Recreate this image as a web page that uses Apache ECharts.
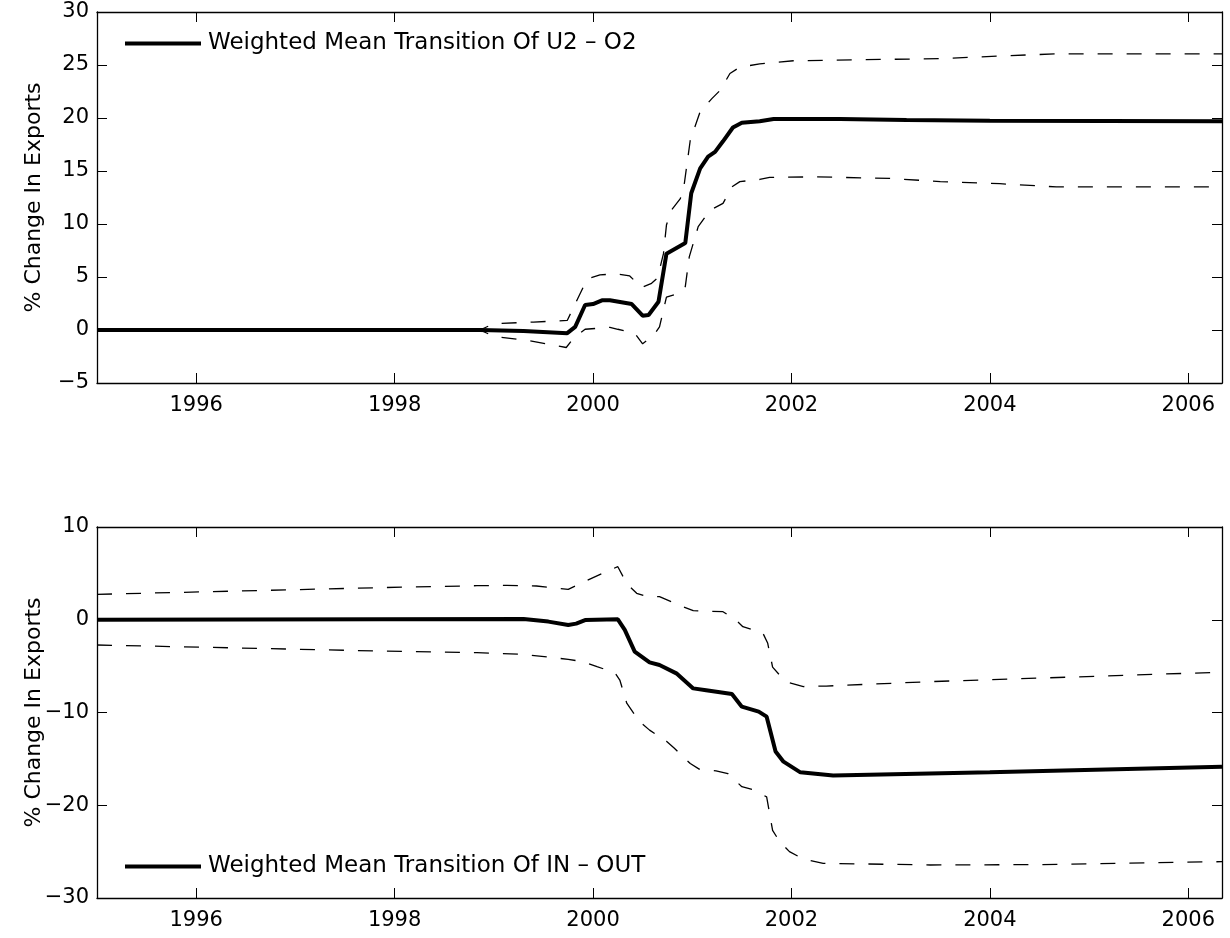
<!DOCTYPE html>
<html>
<head>
<meta charset="utf-8">
<script src="https://cdn.jsdelivr.net/npm/echarts@6/dist/echarts.min.js"></script>
<style>
html,body{margin:0;padding:0;background:#fff;}
#chart{width:1230px;height:938px;}
</style>
</head>
<body>
<div id="chart"></div>
<script>
// ---- data (decimal year, % change) ----
const xTickYears = [1996, 1998, 2000, 2002, 2004, 2006];

const topLegend = 'Weighted Mean Transition Of U2 \u2013 O2';
const botLegend = 'Weighted Mean Transition Of IN \u2013 OUT';

const topMean = [[1995.0,0],[1998.86,0],[1999.3,-0.1],[1999.74,-0.3],[1999.82,0.3],[1999.92,2.36],[2000.0,2.45],[2000.09,2.8],[2000.17,2.8],[2000.39,2.45],[2000.5,1.35],[2000.56,1.41],[2000.66,2.67],[2000.74,7.2],[2000.93,8.2],[2000.99,12.9],[2001.08,15.25],[2001.16,16.35],[2001.23,16.8],[2001.31,17.8],[2001.41,19.1],[2001.5,19.55],[2001.68,19.7],[2001.82,19.9],[2002.49,19.9],[2003.16,19.8],[2004.0,19.75],[2006.34,19.7]];
const topUpper = [[1995.0,0],[1998.86,0],[1999.0,0.6],[1999.4,0.75],[1999.74,0.9],[1999.94,4.8],[2000.07,5.2],[2000.24,5.3],[2000.37,5.1],[2000.49,4.0],[2000.59,4.4],[2000.65,4.9],[2000.71,7.2],[2000.74,9.9],[2000.79,11.3],[2000.88,12.4],[2000.92,13.8],[2000.98,17.9],[2001.08,20.6],[2001.2,21.85],[2001.28,22.6],[2001.38,24.2],[2001.48,24.8],[2001.68,25.1],[2001.78,25.2],[2002.02,25.4],[2002.69,25.5],[2003.5,25.6],[2004.1,25.85],[2004.67,26.05],[2006.34,26.05]];
const topLower = [[1995.0,0],[1998.86,0],[1999.0,-0.6],[1999.35,-1.0],[1999.73,-1.65],[1999.8,-0.8],[1999.92,0.07],[2000.17,0.25],[2000.25,0.07],[2000.42,-0.3],[2000.5,-1.3],[2000.61,-0.5],[2000.67,0.3],[2000.74,3.1],[2000.88,3.5],[2000.93,4.1],[2000.97,6.9],[2001.06,9.75],[2001.18,11.3],[2001.31,11.95],[2001.4,13.5],[2001.48,14.0],[2001.68,14.2],[2001.78,14.4],[2002.25,14.45],[2002.99,14.3],[2003.5,14.0],[2004.1,13.8],[2004.67,13.5],[2006.34,13.5]];

const botMean = [[1995.0,0],[1999.3,0.08],[1999.55,-0.2],[1999.75,-0.57],[1999.83,-0.42],[1999.92,-0.03],[2000.25,0.05],[2000.32,-1.1],[2000.42,-3.44],[2000.57,-4.6],[2000.67,-4.88],[2000.84,-5.78],[2001.01,-7.4],[2001.14,-7.6],[2001.4,-8.0],[2001.5,-9.37],[2001.67,-9.9],[2001.75,-10.45],[2001.84,-14.2],[2001.92,-15.3],[2002.09,-16.45],[2002.42,-16.8],[2004.0,-16.45],[2006.34,-15.84]];
const botUpper = [[1995.0,2.74],[1997.85,3.46],[1998.83,3.67],[1999.13,3.7],[1999.43,3.64],[1999.75,3.28],[1999.88,3.95],[2000.17,5.36],[2000.25,5.72],[2000.34,3.9],[2000.44,2.85],[2000.54,2.5],[2000.67,2.5],[2000.91,1.4],[2001.01,0.98],[2001.31,0.87],[2001.44,-0.03],[2001.51,-0.75],[2001.71,-1.4],[2001.76,-2.5],[2001.81,-5.1],[2001.88,-5.96],[2001.98,-6.8],[2002.12,-7.2],[2002.35,-7.15],[2003.4,-6.67],[2006.34,-5.65]];
const botLower = [[1995.0,-2.72],[1997.85,-3.37],[1998.83,-3.55],[1999.3,-3.73],[1999.75,-4.27],[1999.9,-4.52],[2000.04,-5.06],[2000.22,-5.7],[2000.27,-6.5],[2000.34,-9.0],[2000.47,-11.0],[2000.57,-11.9],[2000.74,-13.1],[2000.82,-13.86],[2000.98,-15.5],[2001.07,-16.1],[2001.24,-16.3],[2001.36,-16.6],[2001.5,-18.0],[2001.62,-18.35],[2001.75,-19.1],[2001.81,-22.7],[2001.88,-23.9],[2001.98,-25.0],[2002.12,-25.8],[2002.32,-26.26],[2003.4,-26.44],[2004.5,-26.4],[2006.34,-26.08]];

const X_MIN = 1995.0, X_MAX = 2006.34;
const FONT = 'DejaVu Sans, Liberation Sans, Arial, sans-serif';
const FS = 21;

function xAx(grid, pos, showLabel){
  return {
    type:'value', gridIndex:grid, position:pos, min:X_MIN, max:X_MAX,
    axisLine:{show:true, onZero:false, lineStyle:{color:'#000', width:1.3}},
    axisTick:{show:true, inside:true, length:10, customValues:xTickYears, lineStyle:{color:'#000', width:1}},
    axisLabel:{show:showLabel, customValues:xTickYears, margin:12, color:'#000', fontSize:FS, fontFamily:FONT,
      formatter: v => String(v)},
    splitLine:{show:false}
  };
}
function yAx(grid, pos, min, max, interval, showLabel){
  return {
    type:'value', gridIndex:grid, position:pos, min:min, max:max, interval:interval,
    name: showLabel ? '% Change In Exports' : '',
    nameLocation:'middle', nameGap:52, nameMoveOverlap:false,
    nameTextStyle:{color:'#000', fontSize:22, fontFamily:FONT},
    axisLine:{show:true, onZero:false, lineStyle:{color:'#000', width:1.3}},
    axisTick:{show:true, inside:true, length:10, lineStyle:{color:'#000', width:1}},
    axisLabel:{show:showLabel, margin:8, color:'#000', fontSize:FS, fontFamily:FONT,
      formatter: v => (v < 0 ? '\u2212' + Math.abs(v) : String(v))},
    splitLine:{show:false}
  };
}
function line(name, data, xi, yi, dashed){
  return {
    name:name, type:'line', xAxisIndex:xi, yAxisIndex:yi, data:data,
    showSymbol:false, symbol:'none', animation:false, silent:true,
    z: dashed ? 3 : 4,
    itemStyle:{color:'#000'},
    lineStyle: dashed ? {color:'#000', width:1.3, type:[15,14]} : {color:'#000', width:4}
  };
}
function legend(name, top){
  return {data:[name], left:125, top:top, icon:'rect', itemWidth:76, itemHeight:4, itemGap:0, padding:0,
    itemStyle:{color:'#000'},
    textStyle:{color:'#000', fontSize:23, fontFamily:FONT, padding:[0,0,0,2]}, selectedMode:false};
}

const chart = echarts.init(document.getElementById('chart'), null, {renderer:'canvas'});
chart.setOption({
  backgroundColor:'#fff',
  animation:false,
  grid:[
    {left:97, top:12, width:1125, height:371, show:false},
    {left:97, top:527, width:1125, height:371, show:false}
  ],
  xAxis:[xAx(0,'bottom',true), xAx(0,'top',false), xAx(1,'bottom',true), xAx(1,'top',false)],
  yAxis:[yAx(0,'left',-5,30,5,true), yAx(0,'right',-5,30,5,false), yAx(1,'left',-30,10,10,true), yAx(1,'right',-30,10,10,false)],
  legend:[legend(topLegend, 32), legend(botLegend, 855)],
  series:[
    line('topUpper', topUpper, 0, 0, true),
    line('topLower', topLower, 0, 0, true),
    line(topLegend, topMean, 0, 0, false),
    line('botUpper', botUpper, 2, 2, true),
    line('botLower', botLower, 2, 2, true),
    line(botLegend, botMean, 2, 2, false)
  ]
});
</script>
</body>
</html>
